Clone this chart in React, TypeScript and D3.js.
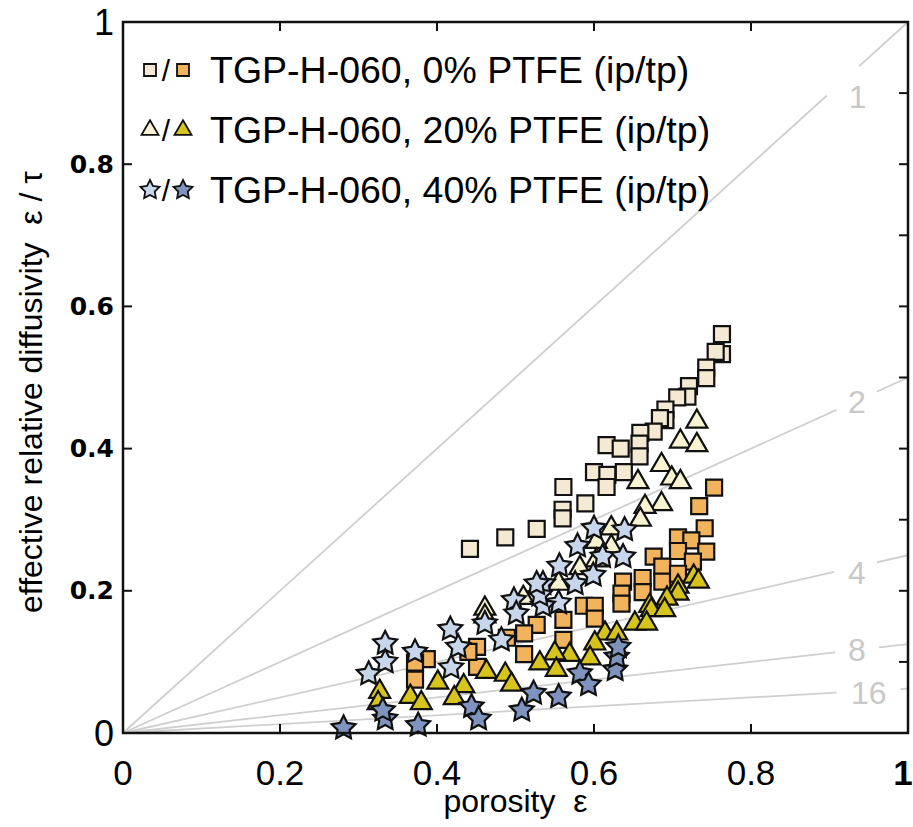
import React from "react";
import * as d3 from "d3";

const W = 913;
const H = 827;

const xTicks = [0, 0.2, 0.4, 0.6, 0.8, 1];
const yTicks = [0, 0.2, 0.4, 0.6, 0.8, 1];
const rightTicks = [0.1, 0.2, 0.3, 0.4, 0.5, 0.6, 0.7, 0.8, 0.9];
const tortuosities = [1, 2, 4, 8, 16];
// label anchor positions (data units) for the tortuosity lines
const tortLabelX = [0.936, 0.935, 0.935, 0.935, 0.95];
const tortLabelY = [0.894, 0.466, 0.225, 0.117, 0.056];
const legendLabels = [
  "TGP-H-060, 0% PTFE (ip/tp)",
  "TGP-H-060, 20% PTFE (ip/tp)",
  "TGP-H-060, 40% PTFE (ip/tp)",
];

// 0% PTFE, in-plane (light squares)
const squaresIp: [number, number][] = [
  [0.763, 0.561], [0.763, 0.533], [0.755, 0.536], [0.743, 0.514], [0.743, 0.499],
  [0.721, 0.488], [0.719, 0.473], [0.706, 0.472], [0.691, 0.455], [0.691, 0.44],
  [0.684, 0.443], [0.676, 0.424], [0.659, 0.422], [0.658, 0.407], [0.658, 0.389],
  [0.616, 0.405], [0.634, 0.4], [0.6, 0.367], [0.617, 0.363], [0.638, 0.367],
  [0.561, 0.346], [0.616, 0.346], [0.56, 0.314], [0.56, 0.302], [0.589, 0.323],
  [0.527, 0.287], [0.487, 0.275], [0.442, 0.259],
];
// 0% PTFE, through-plane (orange squares)
const squaresTp: [number, number][] = [
  [0.753, 0.345], [0.734, 0.319], [0.741, 0.288], [0.707, 0.275], [0.724, 0.271],
  [0.743, 0.255], [0.707, 0.256], [0.726, 0.241], [0.676, 0.248], [0.687, 0.234],
  [0.687, 0.213], [0.707, 0.224], [0.662, 0.218], [0.662, 0.198], [0.637, 0.213],
  [0.635, 0.196], [0.635, 0.182], [0.587, 0.179], [0.601, 0.179], [0.601, 0.161],
  [0.561, 0.159], [0.561, 0.131], [0.527, 0.152], [0.511, 0.14], [0.511, 0.111],
  [0.489, 0.134], [0.451, 0.121], [0.451, 0.093], [0.44, 0.114], [0.387, 0.104],
  [0.372, 0.099], [0.372, 0.075],
];
// 20% PTFE, in-plane (pale triangles)
const trianglesIp: [number, number][] = [
  [0.731, 0.438], [0.71, 0.41], [0.731, 0.405], [0.686, 0.377], [0.699, 0.358],
  [0.71, 0.353], [0.656, 0.353], [0.686, 0.322], [0.665, 0.318], [0.659, 0.3],
  [0.622, 0.288], [0.622, 0.262], [0.603, 0.269], [0.603, 0.243], [0.582, 0.232],
  [0.555, 0.21], [0.51, 0.19], [0.461, 0.175], [0.461, 0.164],
];
// 20% PTFE, through-plane (yellow triangles)
const trianglesTp: [number, number][] = [
  [0.727, 0.22], [0.733, 0.213], [0.707, 0.206], [0.707, 0.196], [0.693, 0.189],
  [0.671, 0.179], [0.673, 0.173], [0.69, 0.173], [0.652, 0.154], [0.667, 0.154],
  [0.614, 0.14], [0.629, 0.14], [0.601, 0.126], [0.569, 0.11], [0.595, 0.105],
  [0.55, 0.112], [0.531, 0.098], [0.552, 0.089], [0.463, 0.086], [0.487, 0.082],
  [0.495, 0.068], [0.401, 0.071], [0.434, 0.066], [0.422, 0.049], [0.327, 0.058],
  [0.325, 0.042], [0.366, 0.051], [0.38, 0.042],
];
// 40% PTFE, in-plane (light stars)
const starsIp: [number, number][] = [
  [0.6, 0.288], [0.639, 0.286], [0.579, 0.263], [0.611, 0.248], [0.637, 0.248],
  [0.556, 0.235], [0.576, 0.21], [0.599, 0.222], [0.535, 0.21], [0.555, 0.183],
  [0.535, 0.179], [0.498, 0.187], [0.501, 0.168], [0.461, 0.154], [0.482, 0.131],
  [0.531, 0.194], [0.527, 0.21], [0.334, 0.126], [0.334, 0.1], [0.313, 0.083],
  [0.372, 0.114], [0.417, 0.146], [0.427, 0.121], [0.418, 0.092],
];
// 40% PTFE, through-plane (dark stars)
const starsTp: [number, number][] = [
  [0.281, 0.007], [0.334, 0.02], [0.331, 0.032], [0.376, 0.011], [0.444, 0.037],
  [0.453, 0.02], [0.508, 0.032], [0.523, 0.056], [0.555, 0.051], [0.582, 0.084],
  [0.593, 0.068], [0.627, 0.089], [0.629, 0.107], [0.631, 0.121],
];

const C = {
  sqIp: "#f4ead3",
  sqTp: "#f1b35c",
  trIp: "#f8f4d2",
  trTp: "#d6c41c",
  stIp: "#c8d6ec",
  stTp: "#7e93bd",
  stroke: "#111",
  ref: "#cfcfcf",
};

function starPath(R: number, r: number): string {
  const pts: [number, number][] = [];
  for (let i = 0; i < 10; i++) {
    pts.push([(i * Math.PI) / 5, i % 2 === 0 ? R : r]);
  }
  return d3.lineRadial().curve(d3.curveLinearClosed)(pts) as string;
}

const sqPath = (s: number) => d3.symbol(d3.symbolSquare, s * s)() as string;
const triPath = (s: number) =>
  d3.symbol(d3.symbolTriangle, (Math.sqrt(3) / 4) * s * s)() as string;

export default function App() {
  const x = d3.scaleLinear().domain([0, 1]).range([123, 908]);
  const y = d3.scaleLinear().domain([0, 1]).range([733, 22]);

  const shapes = {
    sq: sqPath(16),
    tr: triPath(21),
    st: starPath(12.5, 6.3),
    sqL: sqPath(12),
    trL: triPath(17),
    stL: starPath(10, 5),
  };

  const series = [
    { data: squaresIp, d: shapes.sq, fill: C.sqIp },
    { data: squaresTp, d: shapes.sq, fill: C.sqTp },
    { data: trianglesIp, d: shapes.tr, fill: C.trIp },
    { data: trianglesTp, d: shapes.tr, fill: C.trTp },
    { data: starsIp, d: shapes.st, fill: C.stIp },
    { data: starsTp, d: shapes.st, fill: C.stTp },
  ];

  const legendRows = [
    { a: shapes.sqL, fa: C.sqIp, b: shapes.sqL, fb: C.sqTp },
    { a: shapes.trL, fa: C.trIp, b: shapes.trL, fb: C.trTp },
    { a: shapes.stL, fa: C.stIp, b: shapes.stL, fb: C.stTp },
  ];

  const refLines = tortuosities.map((t, i) => {
    const x0 = x(0), y0 = y(0), x1 = x(1), y1 = y(1 / t);
    const len = Math.hypot(x1 - x0, y1 - y0);
    const ux = (x1 - x0) / len, uy = (y1 - y0) / len;
    const px = x(tortLabelX[i]), py = y(tortLabelY[i]);
    const s = (px - x0) * ux + (py - y0) * uy;
    const g = t === 16 ? 32 : 22;
    return {
      t,
      seg1: [x0, y0, x0 + (s - g) * ux, y0 + (s - g) * uy],
      seg2: [x0 + (s + g) * ux, y0 + (s + g) * uy, x1, y1],
      px,
      py,
    };
  });

  const font = "'Liberation Sans', Arial, Helvetica, sans-serif";

  return (
    <svg
      width={W}
      height={H}
      style={{ position: "absolute", left: 0, top: 0, background: "#fff" }}
    >
      <rect x={0} y={0} width={W} height={H} fill="#fff" />
      {refLines.map((r) => (
        <g key={r.t}>
          <line x1={r.seg1[0]} y1={r.seg1[1]} x2={r.seg1[2]} y2={r.seg1[3]} stroke={C.ref} strokeWidth={1.8} />
          <line x1={r.seg2[0]} y1={r.seg2[1]} x2={r.seg2[2]} y2={r.seg2[3]} stroke={C.ref} strokeWidth={1.8} />
          <text
            x={r.px}
            y={r.py}
            textAnchor="middle"
            dominantBaseline="central"
            fontFamily={font}
            fontSize={32}
            fill="#c8c8c8"
          >
            {r.t}
          </text>
        </g>
      ))}

      {series.map((s, si) => (
        <g key={si}>
          {s.data.map(([dx, dy], i) => (
            <path
              key={i}
              d={s.d}
              transform={`translate(${x(dx)},${y(dy)})`}
              fill={s.fill}
              stroke={C.stroke}
              strokeWidth={2.2}
              strokeLinejoin="miter"
            />
          ))}
        </g>
      ))}

      <rect x={x(0)} y={y(1)} width={x(1) - x(0)} height={y(0) - y(1)} fill="none" stroke="#111" strokeWidth={2.5} />
      {xTicks.slice(1, -1).map((t) => (
        <g key={"xt" + t}>
          <line x1={x(t)} x2={x(t)} y1={y(0)} y2={y(0) - 9} stroke="#111" strokeWidth={2} />
          <line x1={x(t)} x2={x(t)} y1={y(1)} y2={y(1) + 9} stroke="#111" strokeWidth={2} />
        </g>
      ))}
      {yTicks.slice(1, -1).map((t) => (
        <line key={"yt" + t} x1={x(0)} x2={x(0) + 9} y1={y(t)} y2={y(t)} stroke="#111" strokeWidth={2} />
      ))}
      {rightTicks.map((t) => (
        <line key={"rt" + t} x1={x(1)} x2={x(1) - 9} y1={y(t)} y2={y(t)} stroke="#111" strokeWidth={2} />
      ))}

      {xTicks.map((t) => (
        <text
          key={"xl" + t}
          x={t === 1 ? x(t) - 5 : x(t)}
          y={y(0) + 52}
          textAnchor="middle"
          fontFamily={font}
          fontSize={35}
          fontWeight={t === 1 ? "bold" : "normal"}
          fill="#000"
        >
          {t === 0 || t === 1 ? String(t) : t.toFixed(1)}
        </text>
      ))}
      {yTicks.map((t) => {
        const edge = t === 0 || t === 1;
        return (
          <text
            key={"yl" + t}
            x={x(0) - 9}
            y={y(t)}
            textAnchor="end"
            dominantBaseline="central"
            fontFamily={edge ? font : "'DejaVu Sans', Verdana, sans-serif"}
            fontWeight={edge ? "normal" : "bold"}
            fontSize={edge ? 36 : 25}
            fill="#000"
          >
            {edge ? String(t) : t.toFixed(1)}
          </text>
        );
      })}

      <text
        x={(x(0) + x(1)) / 2}
        y={812}
        textAnchor="middle"
        fontFamily={font}
        fontSize={32}
        fill="#000"
      >
        {"porosity\u00A0\u00A0ε"}
      </text>
      <text
        transform={`translate(42,392) rotate(-90)`}
        textAnchor="middle"
        fontFamily={font}
        fontSize={32}
        fill="#000"
      >
        {"effective relative diffusivity\u00A0\u00A0ε / τ"}
      </text>

      {legendRows.map((r, i) => {
        const cy = 70 + i * 60;
        return (
          <g key={"lg" + i}>
            <path d={r.a} transform={`translate(150,${cy})`} fill={r.fa} stroke={C.stroke} strokeWidth={1.8} />
            <text x={166} y={cy} textAnchor="middle" dominantBaseline="central" fontFamily={font} fontSize={30} fill="#000">
              /
            </text>
            <path d={r.b} transform={`translate(183,${cy})`} fill={r.fb} stroke={C.stroke} strokeWidth={1.8} />
            <text x={210} y={cy} dominantBaseline="central" fontFamily={font} fontSize={37.5} fill="#000">
              {legendLabels[i]}
            </text>
          </g>
        );
      })}
    </svg>
  );
}
